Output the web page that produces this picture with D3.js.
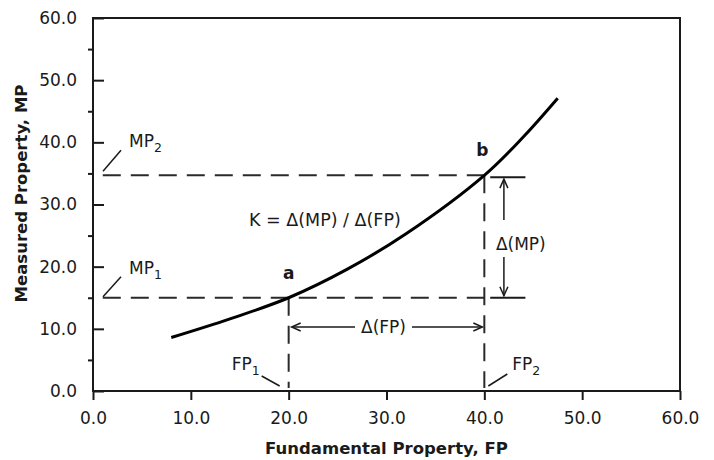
<!DOCTYPE html>
<html>
<head>
<meta charset="utf-8">
<script src="https://cdn.jsdelivr.net/npm/d3@7"></script>
<style>
  body { margin: 0; background: #fff; }
  text { font-family: "DejaVu Sans", Verdana, sans-serif; fill: #1a1a1a; }
</style>
</head>
<body>
<div class="chart"></div>
<script>
// values
var fpTicks = [0, 10, 20, 30, 40, 50, 60];
var mpTicks = [0, 10, 20, 30, 40, 50, 60];
var mpMinorTicks = [5, 15, 25, 35, 45, 55];

var curveFP = [8, 14, 20, 26, 32, 40, 44, 47.5];
var curveMP = [8.6, 11.6, 15.0, 19.6, 25.3, 34.7, 40.9, 47.1];

// point a and point b
var fp1 = 20, fp2 = 40;
var mp1 = 15, mp2 = 34.7;

var width = 714, height = 460;
var margin = {top: 18, right: 34, bottom: 69, left: 93};

var svg = d3.select(".chart").append("svg")
  .attr("width", width)
  .attr("height", height);

var x = d3.scaleLinear().domain([0, 60]).range([margin.left, width - margin.right]);
var y = d3.scaleLinear().domain([0, 60]).range([height - margin.bottom, margin.top]);

var fmt = d3.format(".1f");

// y axis: major ticks inside, minor ticks outside
var yAxis = svg.append("g")
  .attr("transform", "translate(" + x(0) + ",0)")
  .call(d3.axisLeft(y).tickValues(mpTicks).tickFormat(fmt).tickSize(-11).tickSizeOuter(0).tickPadding(16));
yAxis.select(".domain").remove();
yAxis.selectAll("text").style("font-size", "17px").attr("fill", "#1a1a1a");

var yMinor = svg.append("g")
  .attr("transform", "translate(" + x(0) + ",0)")
  .call(d3.axisLeft(y).tickValues(mpMinorTicks).tickFormat("").tickSize(5).tickSizeOuter(0));
yMinor.select(".domain").remove();

var xAxis = svg.append("g")
  .attr("transform", "translate(0," + y(0) + ")")
  .call(d3.axisBottom(x).tickValues(fpTicks).tickFormat(fmt).tickSize(9).tickSizeOuter(0).tickPadding(12));
xAxis.select(".domain").remove();
xAxis.selectAll("text").style("font-size", "17px").attr("fill", "#1a1a1a");

svg.selectAll(".tick line").attr("stroke", "#1a1a1a").attr("stroke-width", 2);

// frame
svg.append("rect")
  .attr("x", x(0)).attr("y", y(60))
  .attr("width", x(60) - x(0)).attr("height", y(0) - y(60))
  .attr("fill", "none").attr("stroke", "#1a1a1a").attr("stroke-width", 2);

// axis titles
svg.append("text")
  .attr("x", (x(0) + x(60)) / 2).attr("y", 454)
  .attr("text-anchor", "middle")
  .style("font-size", "16.5px").style("font-weight", "bold")
  .text("Fundamental Property, FP");

svg.append("text")
  .attr("transform", "translate(27," + ((y(0) + y(60)) / 2 - 11) + ") rotate(-90)")
  .attr("text-anchor", "middle")
  .style("font-size", "16.5px").style("font-weight", "bold")
  .text("Measured Property, MP");

// dashed guide lines
var dash = "18,10";
function dline(x1, y1, x2, y2) {
  svg.append("line")
    .attr("x1", x1).attr("y1", y1).attr("x2", x2).attr("y2", y2)
    .attr("stroke", "#2a2a2a").attr("stroke-width", 2)
    .attr("stroke-dasharray", dash);
}
dline(x(1), y(mp2), x(fp2), y(mp2));
dline(x(1), y(mp1), x(fp2), y(mp1));
dline(x(fp1), y(mp1), x(fp1), y(0) - 3);
dline(x(fp2), y(mp2), x(fp2), y(0) - 3);

// plain lines
function sline(x1, y1, x2, y2, w) {
  svg.append("line")
    .attr("x1", x1).attr("y1", y1).attr("x2", x2).attr("y2", y2)
    .attr("stroke", "#1a1a1a").attr("stroke-width", w || 1.5);
}
// short solid bars at the right of b and the mp1 level
sline(x(40.6), y(34.4), x(44.2), y(34.4), 2);
sline(x(40.6), y(mp1), x(44.2), y(mp1), 2);

// arrow heads drawn as open V
function head(tx, ty, dx, dy) {
  var len = 9, half = 4;
  var bx = tx - dx * len, by = ty - dy * len;
  var px = -dy * half, py = dx * half;
  svg.append("path")
    .attr("d", "M" + (bx + px) + "," + (by + py) + "L" + tx + "," + ty + "L" + (bx - px) + "," + (by - py))
    .attr("fill", "none").attr("stroke", "#1a1a1a").attr("stroke-width", 1.5);
}

// delta FP arrow
var fpArrowY = y(10.3);
var dfp = svg.append("text")
  .attr("x", x(30) - 3).attr("y", fpArrowY).attr("dy", "0.37em")
  .attr("text-anchor", "middle")
  .style("font-size", "17px")
  .text("Δ(FP)");
var bb = dfp.node().getBBox();
sline(x(fp1) + 3, fpArrowY, bb.x - 6, fpArrowY);
sline(bb.x + bb.width + 6, fpArrowY, x(fp2) - 2, fpArrowY);
head(x(fp1) + 3, fpArrowY, -1, 0);
head(x(fp2) - 2, fpArrowY, 1, 0);

// delta MP arrow
var mpArrowX = x(42);
svg.append("text")
  .attr("x", mpArrowX - 8).attr("y", 250)
  .style("font-size", "17px")
  .text("Δ(MP)");
sline(mpArrowX, y(34.4) + 2, mpArrowX, 220);
sline(mpArrowX, 257, mpArrowX, y(mp1) - 2);
head(mpArrowX, y(34.4) + 2, 0, -1);
head(mpArrowX, y(mp1) - 2, 0, 1);

// the curve
var pts = d3.zip(curveFP, curveMP);
svg.append("path")
  .datum(pts)
  .attr("d", d3.line().x(function(d) { return x(d[0]); }).y(function(d) { return y(d[1]); }).curve(d3.curveCatmullRom))
  .attr("fill", "none").attr("stroke", "#000").attr("stroke-width", 3);

// point labels
svg.append("text").attr("x", x(fp1)).attr("y", y(mp1) - 19)
  .attr("text-anchor", "middle").style("font-size", "17px").style("font-weight", "bold").text("a");
svg.append("text").attr("x", x(fp2) - 2).attr("y", y(mp2) - 19)
  .attr("text-anchor", "middle").style("font-size", "17px").style("font-weight", "bold").text("b");

svg.append("text").attr("x", 249).attr("y", 226)
  .style("font-size", "17.5px")
  .text("K = Δ(MP) / Δ(FP)");

// subscripted labels with leader lines
function subLabel(tx, ty, main, sub) {
  var t = svg.append("text").attr("x", tx).attr("y", ty).style("font-size", "17px");
  t.append("tspan").text(main);
  t.append("tspan").attr("dy", 5).style("font-size", "12.5px").text(sub);
}
subLabel(x(0) + 36, y(mp2) - 28, "MP", "2");
sline(x(0) + 10, y(mp2) - 4, x(0) + 28, y(mp2) - 25);
subLabel(x(0) + 36, y(mp1) - 24, "MP", "1");
sline(x(0) + 10, y(mp1) - 1, x(0) + 28, y(mp1) - 21);
subLabel(x(fp1) - 57, 370, "FP", "1");
sline(x(fp1) - 27, 376, x(fp1) - 9, 386);
subLabel(x(fp2) + 28, 370, "FP", "2");
sline(x(fp2) + 4, 386, x(fp2) + 23, 374);
</script>
</body>
</html>
